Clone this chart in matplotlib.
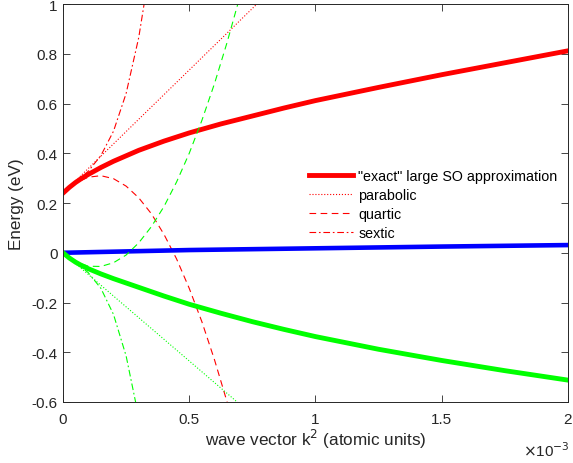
import matplotlib
matplotlib.use("Agg")
import matplotlib.pyplot as plt
from matplotlib.ticker import FuncFormatter

plt.rcParams['font.family'] = ['Liberation Sans', 'DejaVu Sans']
plt.rcParams['axes.unicode_minus'] = False

# wave vector k^2, in units of 1e-3 (atomic units)
k2_exact = [0, 0.025, 0.05, 0.075, 0.1, 0.15, 0.2, 0.3, 0.4, 0.5, 0.625,
            0.75, 0.875, 1.0, 1.25, 1.5, 1.75, 2.0]
e_upper = [0.24, 0.263, 0.283, 0.300, 0.315, 0.343, 0.368, 0.412, 0.449, 0.482,
           0.518, 0.550, 0.582, 0.612, 0.665, 0.716, 0.764, 0.812]
e_lower = [0, -0.021, -0.038, -0.052, -0.064, -0.085, -0.104, -0.139, -0.174, -0.207,
           -0.243, -0.277, -0.308, -0.337, -0.388, -0.433, -0.474, -0.512]

k2_middle = [0, 0.5, 1.0, 1.5, 2.0]
e_middle = [0, 0.011, 0.018, 0.025, 0.031]

# approximations
k2_par = [0, 0.8]
par_upper = [0.24, 1.032]
par_lower = [0, -0.696]

k2_quart = [0, 0.05, 0.1, 0.15, 0.2, 0.25, 0.3, 0.35, 0.4, 0.45, 0.5, 0.55, 0.6, 0.65, 0.7]
quart_upper = [0.24, 0.281, 0.304, 0.310, 0.298, 0.268, 0.221, 0.157, 0.074,
               -0.025, -0.143, -0.277, -0.430, -0.600, -0.787]
quart_lower = [0, -0.035, -0.054, -0.055, -0.040, -0.009, 0.040, 0.105, 0.186,
               0.285, 0.400, 0.532, 0.680, 0.846, 1.028]

k2_sext_up = [0, 0.05, 0.1, 0.15, 0.2, 0.25, 0.3, 0.35]
sext_upper = [0.24, 0.284, 0.328, 0.391, 0.489, 0.641, 0.866, 1.182]
k2_sext_lo = [0, 0.05, 0.1, 0.15, 0.2, 0.25, 0.3]
sext_lower = [0, -0.038, -0.080, -0.143, -0.248, -0.415, -0.662]

fig = plt.figure(figsize=(5.73, 4.64), dpi=100)
ax = fig.add_axes([0.110, 0.1315, 0.881, 0.8575])

red, green, blue = (1, 0, 0), (0, 1, 0), (0, 0, 1)
dash = (0, (6, 4))
dashdot = (0, (6, 2.5, 1.5, 2.5))

ax.plot(k2_exact, e_upper, color=red, lw=3.5, solid_joinstyle='round',
        label='"exact" large SO approximation')
ax.plot(k2_par, par_upper, color=red, lw=0.8, ls=':', label='parabolic')
ax.plot(k2_quart, quart_upper, color=red, lw=0.8, ls=dash, label='quartic')
ax.plot(k2_sext_up, sext_upper, color=red, lw=0.8, ls=dashdot, label='sextic')

ax.plot(k2_middle, e_middle, color=blue, lw=3.3)

ax.plot(k2_exact, e_lower, color=green, lw=3.5, solid_joinstyle='round')
ax.plot(k2_par, par_lower, color=green, lw=0.8, ls=':')
ax.plot(k2_quart, quart_lower, color=green, lw=0.8, ls=dash)
ax.plot(k2_sext_lo, sext_lower, color=green, lw=0.8, ls=dashdot)

ax.set_xlim(0, 2)
ax.set_ylim(-0.6, 1)
ax.set_xticks([0, 0.5, 1, 1.5, 2])
ax.set_yticks([-0.6, -0.4, -0.2, 0, 0.2, 0.4, 0.6, 0.8, 1])
fmt = FuncFormatter(lambda v, p: '{:g}'.format(round(v, 3)))
ax.xaxis.set_major_formatter(fmt)
ax.yaxis.set_major_formatter(fmt)
ax.tick_params(direction='in', top=True, right=True, length=5, width=0.6,
               labelsize=11, colors='#262626')
ax.tick_params(axis='x', pad=7)
ax.tick_params(axis='y', pad=4)
for s in ax.spines.values():
    s.set_linewidth(0.7)
    s.set_color('#262626')

ax.set_xlabel('wave vector k$^2$ (atomic units)', fontsize=12.3, color='#262626', labelpad=1)
ax.set_ylabel('Energy (eV)', fontsize=12.3, color='#262626', labelpad=5)
fig.text(0.994, 0.008, r'$\times$10$^{-3}$', ha='right', va='bottom', fontsize=11, color='#262626')

ax.legend(loc='upper left', bbox_to_anchor=(309 / 573, 1 - 170 / 464),
          bbox_transform=fig.transFigure, frameon=False, fontsize=10.3,
          handlelength=3.08, handletextpad=0.35, borderpad=0, borderaxespad=0,
          labelspacing=0.34)

fig.savefig('out.png', dpi=100)
